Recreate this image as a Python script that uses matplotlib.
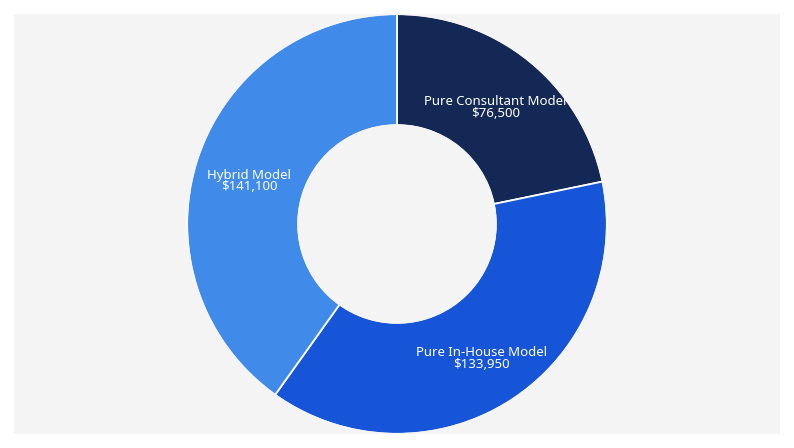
import matplotlib
matplotlib.use("Agg")
import matplotlib.pyplot as plt
from matplotlib.patches import Circle
import numpy as np

labels = ['Pure Consultant Model', 'Pure In-House Model', 'Hybrid Model']
values = [76500, 133950, 141100]
colors = ['#142856', '#1655d8', '#408bea']

W, H = 794, 448
fig = plt.figure(figsize=(W / 100, H / 100), dpi=100)
fig.patch.set_facecolor('white')
panel = '#f4f4f4'

# gray panel behind the donut
bg = fig.add_axes([14 / W, 14 / H, 766 / W, 420 / H])
bg.set_facecolor(panel)
bg.set_xticks([])
bg.set_yticks([])
for s in bg.spines.values():
    s.set_visible(False)

ax = fig.add_axes([187 / W, 14 / H, 420 / W, 420 / H])
ax.set_facecolor('none')
hole = 0.47
wedges, _ = ax.pie(values, colors=colors, startangle=90, counterclock=False, radius=1,
                   wedgeprops=dict(width=1 - hole, edgecolor='white', linewidth=1.3))
# hide the white outline on the outer / inner arcs, keep the white gaps
for rr in (1.0, hole):
    ax.add_patch(Circle((0, 0), rr, fill=False, edgecolor=panel, linewidth=1.6, zorder=2))

total = sum(values)
start = 90.0
for lab, v in zip(labels, values):
    ang = start - v / total * 360 / 2
    start -= v / total * 360
    r = 0.74
    x, y = r * np.cos(np.radians(ang)), r * np.sin(np.radians(ang)) - 0.02
    ax.text(x, y, f'{lab}\n${v:,}', ha='center', va='center', color='white',
            fontsize=9.5, family='Noto Sans', fontweight='medium', linespacing=0.85,
            zorder=5, clip_on=False)

ax.set_xlim(-1, 1)
ax.set_ylim(-1, 1)
ax.set_aspect('equal')
ax.axis('off')

fig.savefig('out.png', dpi=100)
